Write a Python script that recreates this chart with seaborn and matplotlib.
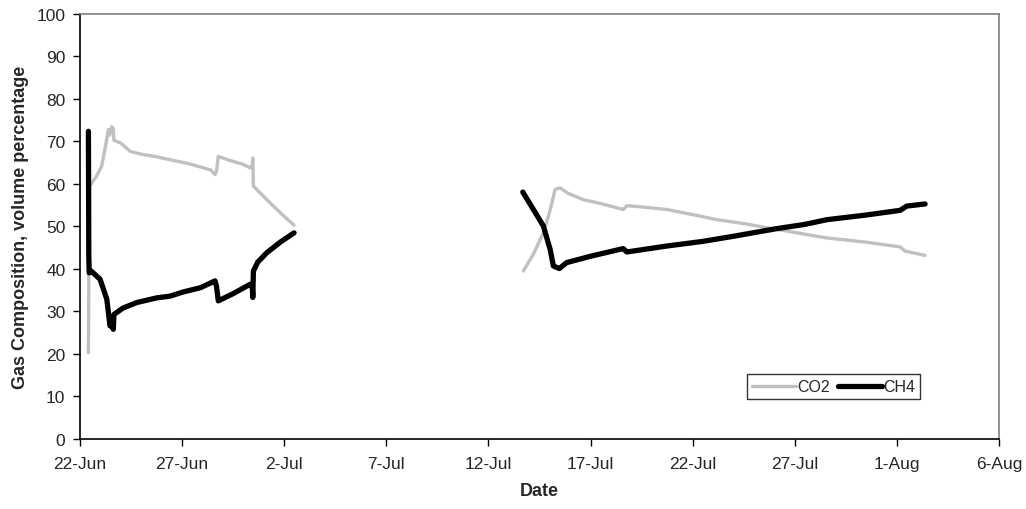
import matplotlib
matplotlib.use("Agg")
import matplotlib.pyplot as plt
import matplotlib.dates as mdates
from matplotlib.lines import Line2D
import seaborn as sns
import pandas as pd

# readings: days after 22-Jun, gas percentage
co2_days_1 = [0.41, 0.44, 0.47, 0.8, 1.06, 1.25, 1.39, 1.45, 1.55, 1.63, 1.66, 2.0, 2.45, 3.0, 3.75,
              4.5, 5.22, 5.9, 6.4, 6.61, 6.68, 6.77, 7.3, 8.0, 8.33, 8.44, 8.46, 8.49, 8.9, 9.3, 9.9, 10.48]
co2_vals_1 = [20.3, 45.0, 59.5, 61.8, 64.2, 69.0, 72.8, 71.5, 73.5, 73.0, 70.3, 69.6, 67.7, 67.0, 66.4,
              65.6, 64.9, 64.0, 63.3, 62.2, 63.0, 66.5, 65.6, 64.6, 63.8, 64.5, 66.1, 59.5, 57.5, 55.6, 52.8, 50.3]
ch4_days_1 = [0.41, 0.43, 0.45, 0.55, 0.98, 1.31, 1.47, 1.55, 1.63, 1.66, 2.1, 2.78, 3.75, 4.4, 5.06,
              5.9, 6.61, 6.68, 6.77, 7.5, 8.33, 8.44, 8.46, 8.49, 8.7, 9.14, 9.8, 10.48]
ch4_vals_1 = [72.4, 43.0, 39.1, 39.5, 37.6, 32.9, 26.6, 27.5, 25.8, 29.3, 30.8, 32.1, 33.2, 33.6, 34.6,
              35.6, 37.2, 36.0, 32.5, 34.2, 36.4, 35.5, 33.3, 39.5, 41.6, 43.8, 46.3, 48.5]

co2_days_2 = [21.71, 22.2, 22.69, 23.0, 23.26, 23.5, 23.9, 24.65, 25.5, 26.6, 26.77, 27.5, 28.73, 30.0,
              31.18, 32.5, 33.63, 35.0, 36.57, 38.5, 40.16, 40.4, 41.38]
co2_vals_2 = [39.5, 43.5, 48.5, 53.5, 58.7, 59.1, 57.8, 56.3, 55.4, 54.0, 54.9, 54.6, 54.0, 52.8,
              51.6, 50.7, 49.7, 48.6, 47.3, 46.3, 45.2, 44.2, 43.2]
ch4_days_2 = [21.68, 22.2, 22.69, 23.02, 23.18, 23.47, 23.83, 25.0, 26.6, 26.77, 28.73, 30.5, 32.0,
              34.12, 35.5, 36.57, 38.5, 40.16, 40.48, 41.38]
ch4_vals_2 = [58.1, 54.0, 50.1, 44.6, 40.7, 40.1, 41.5, 43.0, 44.8, 44.0, 45.4, 46.5, 47.7,
              49.5, 50.5, 51.6, 52.7, 53.8, 54.8, 55.3]

start = pd.Timestamp("2008-06-22")
tick_dates = pd.date_range("2008-06-22", "2008-08-06", freq="5D")


def frame(gas, segment, days, vals):
    return pd.DataFrame({
        "date": start + pd.to_timedelta(days, unit="D"),
        "value": vals,
        "gas": gas,
        "segment": segment,
    })


co2 = pd.concat([frame("CO2", 1, co2_days_1, co2_vals_1), frame("CO2", 2, co2_days_2, co2_vals_2)])
ch4 = pd.concat([frame("CH4", 1, ch4_days_1, ch4_vals_1), frame("CH4", 2, ch4_days_2, ch4_vals_2)])

sns.set_style("white")
plt.rcParams["font.family"] = ["Liberation Sans", "DejaVu Sans"]

fig = plt.figure(figsize=(10.26, 5.10), dpi=100)
ax = fig.add_axes([0.078, 0.1373, 0.8957, 0.8333])

sns.lineplot(data=co2, x="date", y="value", units="segment", estimator=None, sort=False,
             color="#c0c0c0", linewidth=2.4, ax=ax, legend=False)
sns.lineplot(data=ch4, x="date", y="value", units="segment", estimator=None, sort=False,
             color="black", linewidth=3.8, ax=ax, legend=False)

ax.set_xlim(tick_dates[0], tick_dates[-1])
ax.set_ylim(0, 100)
ax.set_xticks(tick_dates)
ax.xaxis.set_major_formatter(mdates.DateFormatter("%-d-%b"))
ax.set_yticks(range(0, 101, 10))
ax.tick_params(axis="both", direction="out", length=5, width=1, color="black",
               labelsize=12.5, bottom=True, left=True)
ax.tick_params(axis="x", pad=7)
ax.tick_params(axis="y", pad=5.5)

for side in ["left", "bottom"]:
    ax.spines[side].set_color("black")
    ax.spines[side].set_linewidth(1.2)
for side in ["top", "right"]:
    ax.spines[side].set_color("#808080")
    ax.spines[side].set_linewidth(1.2)

ax.set_xlabel("Date", fontsize=13, fontweight="bold")
ax.set_ylabel("Gas Composition, volume percentage", fontsize=13, fontweight="bold")
ax.xaxis.set_label_coords(0.5, -0.102)
ax.yaxis.set_label_coords(-0.055, 0.5)

handles = [Line2D([], [], color="#c0c0c0", linewidth=2.4),
           Line2D([], [], color="black", linewidth=3.8)]
leg = ax.legend(handles, ["CO2", "CH4"], loc="lower left", bbox_to_anchor=(0.726, 0.094),
                ncol=2, frameon=True, fancybox=False, fontsize=11.5, handlelength=2.75,
                handletextpad=0.1, columnspacing=0.5, borderpad=0.3, borderaxespad=0)
leg.get_frame().set_edgecolor("black")
leg.get_frame().set_linewidth(1)

fig.savefig("out.png", dpi=100)
